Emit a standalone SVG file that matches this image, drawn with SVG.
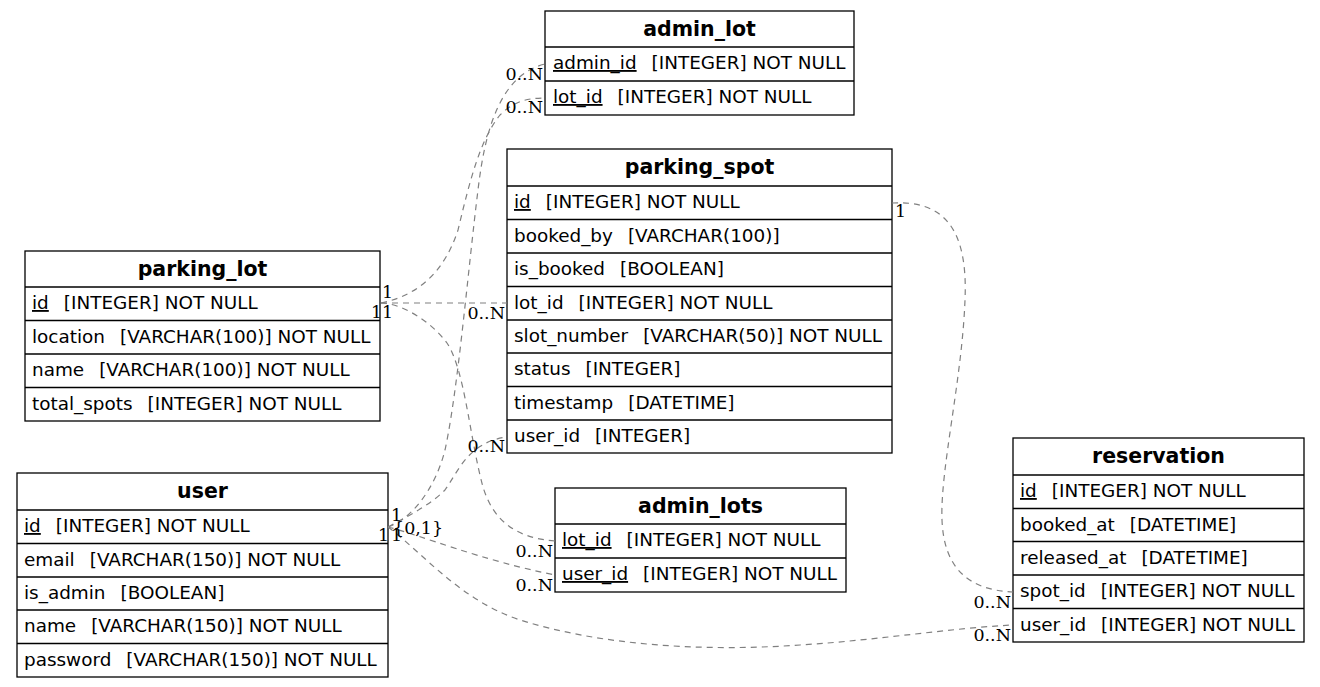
<svg xmlns="http://www.w3.org/2000/svg" width="1320" height="687" viewBox="0 0 1320 687">
<style>
.bg{fill:#fff}
.box{fill:#fff;stroke:#000;stroke-width:1.3}
.sep{stroke:#000;stroke-width:1.3}
.hd{font-family:"DejaVu Sans",sans-serif;font-weight:bold;font-size:20.5px;text-anchor:middle;fill:#000}
.rw{font-family:"DejaVu Sans",sans-serif;font-size:18.4px;fill:#000}
.u{text-decoration:underline}
.ed{fill:none;stroke:#808080;stroke-width:1.2;stroke-dasharray:6,5}
.lb{font-family:"DejaVu Serif",serif;font-size:17.5px;fill:#000}
.he{text-anchor:end}
</style>
<rect class="bg" x="0" y="0" width="1320" height="687"/>

<g id="admin_lot">
<rect class="box" x="545" y="11" width="309" height="104"/>
<line class="sep" x1="545" y1="47" x2="854" y2="47"/>
<line class="sep" x1="545" y1="81" x2="854" y2="81"/>
<text class="hd" x="699.5" y="35.5">admin_lot</text>
<text class="rw" x="553" y="69"><tspan class="u">admin_id</tspan><tspan dx="15">[INTEGER] NOT NULL</tspan></text>
<text class="rw" x="553" y="103"><tspan class="u">lot_id</tspan><tspan dx="15">[INTEGER] NOT NULL</tspan></text>
</g>

<g id="parking_spot">
<rect class="box" x="507" y="149" width="385" height="304"/>
<line class="sep" x1="507" y1="186" x2="892" y2="186"/>
<line class="sep" x1="507" y1="219.5" x2="892" y2="219.5"/>
<line class="sep" x1="507" y1="253" x2="892" y2="253"/>
<line class="sep" x1="507" y1="286.5" x2="892" y2="286.5"/>
<line class="sep" x1="507" y1="320" x2="892" y2="320"/>
<line class="sep" x1="507" y1="353" x2="892" y2="353"/>
<line class="sep" x1="507" y1="386.5" x2="892" y2="386.5"/>
<line class="sep" x1="507" y1="420" x2="892" y2="420"/>
<text class="hd" x="699.5" y="173.5">parking_spot</text>
<text class="rw" x="514" y="208"><tspan class="u">id</tspan><tspan dx="15">[INTEGER] NOT NULL</tspan></text>
<text class="rw" x="514" y="241.5">booked_by<tspan dx="15">[VARCHAR(100)]</tspan></text>
<text class="rw" x="514" y="275">is_booked<tspan dx="15">[BOOLEAN]</tspan></text>
<text class="rw" x="514" y="308.5">lot_id<tspan dx="15">[INTEGER] NOT NULL</tspan></text>
<text class="rw" x="514" y="342">slot_number<tspan dx="15">[VARCHAR(50)] NOT NULL</tspan></text>
<text class="rw" x="514" y="375">status<tspan dx="15">[INTEGER]</tspan></text>
<text class="rw" x="514" y="408.5">timestamp<tspan dx="15">[DATETIME]</tspan></text>
<text class="rw" x="514" y="442">user_id<tspan dx="15">[INTEGER]</tspan></text>
</g>

<g id="parking_lot">
<rect class="box" x="25" y="251" width="355" height="170"/>
<line class="sep" x1="25" y1="287" x2="380" y2="287"/>
<line class="sep" x1="25" y1="320.5" x2="380" y2="320.5"/>
<line class="sep" x1="25" y1="354" x2="380" y2="354"/>
<line class="sep" x1="25" y1="387.5" x2="380" y2="387.5"/>
<text class="hd" x="202.5" y="275.5">parking_lot</text>
<text class="rw" x="32" y="309"><tspan class="u">id</tspan><tspan dx="15">[INTEGER] NOT NULL</tspan></text>
<text class="rw" x="32" y="342.5">location<tspan dx="15">[VARCHAR(100)] NOT NULL</tspan></text>
<text class="rw" x="32" y="376">name<tspan dx="15">[VARCHAR(100)] NOT NULL</tspan></text>
<text class="rw" x="32" y="409.5">total_spots<tspan dx="15">[INTEGER] NOT NULL</tspan></text>
</g>

<g id="user">
<rect class="box" x="17" y="473" width="371" height="204"/>
<line class="sep" x1="17" y1="510" x2="388" y2="510"/>
<line class="sep" x1="17" y1="543.5" x2="388" y2="543.5"/>
<line class="sep" x1="17" y1="577" x2="388" y2="577"/>
<line class="sep" x1="17" y1="610" x2="388" y2="610"/>
<line class="sep" x1="17" y1="643.5" x2="388" y2="643.5"/>
<text class="hd" x="202.5" y="497.5">user</text>
<text class="rw" x="24" y="532"><tspan class="u">id</tspan><tspan dx="15">[INTEGER] NOT NULL</tspan></text>
<text class="rw" x="24" y="565.5">email<tspan dx="15">[VARCHAR(150)] NOT NULL</tspan></text>
<text class="rw" x="24" y="599">is_admin<tspan dx="15">[BOOLEAN]</tspan></text>
<text class="rw" x="24" y="632">name<tspan dx="15">[VARCHAR(150)] NOT NULL</tspan></text>
<text class="rw" x="24" y="665.5">password<tspan dx="15">[VARCHAR(150)] NOT NULL</tspan></text>
</g>

<g id="admin_lots">
<rect class="box" x="555" y="488" width="291" height="104"/>
<line class="sep" x1="555" y1="524" x2="846" y2="524"/>
<line class="sep" x1="555" y1="558" x2="846" y2="558"/>
<text class="hd" x="700.5" y="512.5">admin_lots</text>
<text class="rw" x="562" y="546"><tspan class="u">lot_id</tspan><tspan dx="15">[INTEGER] NOT NULL</tspan></text>
<text class="rw" x="562" y="580"><tspan class="u">user_id</tspan><tspan dx="15">[INTEGER] NOT NULL</tspan></text>
</g>

<g id="reservation">
<rect class="box" x="1013" y="438" width="291" height="204"/>
<line class="sep" x1="1013" y1="475" x2="1304" y2="475"/>
<line class="sep" x1="1013" y1="508.5" x2="1304" y2="508.5"/>
<line class="sep" x1="1013" y1="541.5" x2="1304" y2="541.5"/>
<line class="sep" x1="1013" y1="575" x2="1304" y2="575"/>
<line class="sep" x1="1013" y1="608.5" x2="1304" y2="608.5"/>
<text class="hd" x="1158.5" y="462.5">reservation</text>
<text class="rw" x="1020" y="497"><tspan class="u">id</tspan><tspan dx="15">[INTEGER] NOT NULL</tspan></text>
<text class="rw" x="1020" y="530.5">booked_at<tspan dx="15">[DATETIME]</tspan></text>
<text class="rw" x="1020" y="563.5">released_at<tspan dx="15">[DATETIME]</tspan></text>
<text class="rw" x="1020" y="597">spot_id<tspan dx="15">[INTEGER] NOT NULL</tspan></text>
<text class="rw" x="1020" y="630.5">user_id<tspan dx="15">[INTEGER] NOT NULL</tspan></text>
</g>

<g id="connectors">
<path class="ed" d="M381,303 C420,295 445,270 458,230 C470,180 480,140 500,115 C515,100 530,98 545,98"/>
<path class="ed" d="M381,303 L507,303"/>
<path class="ed" d="M381,303 C400,303 430,320 447,343 C465,370 470,440 483,487 C493,520 515,538 555,541"/>
<path class="ed" d="M388,527 C410,520 435,490 445,450 C458,390 468,270 478,190 C485,130 500,75 545,64"/>
<path class="ed" d="M388,527 C410,515 430,505 445,490 C458,472 468,442 507,437"/>
<path class="ed" d="M388,527 C420,535 480,560 555,575"/>
<path class="ed" d="M388,527 C425,555 460,600 520,620 C600,645 700,652 800,645 C880,640 950,628 1013,625"/>
<path class="ed" d="M892,203 C945,200 968,230 965,300 C962,380 940,470 942,520 C944,570 970,590 1013,592"/>
<text class="lb" x="382" y="298">1</text>
<text class="lb" x="382" y="318">1</text>
<text class="lb" x="371" y="318">1</text>
<text class="lb" x="391" y="521">1</text>
<text class="lb" x="393" y="534">{0,1}</text>
<text class="lb" x="391" y="541">1</text>
<text class="lb" x="378" y="541">1</text>
<text class="lb" x="895" y="217">1</text>
<text class="lb he" x="543" y="80">0..N</text>
<text class="lb he" x="543" y="113">0..N</text>
<text class="lb he" x="505" y="319">0..N</text>
<text class="lb he" x="505" y="452">0..N</text>
<text class="lb he" x="553" y="557">0..N</text>
<text class="lb he" x="553" y="591">0..N</text>
<text class="lb he" x="1011" y="608">0..N</text>
<text class="lb he" x="1011" y="641">0..N</text>
</g>
</svg>
